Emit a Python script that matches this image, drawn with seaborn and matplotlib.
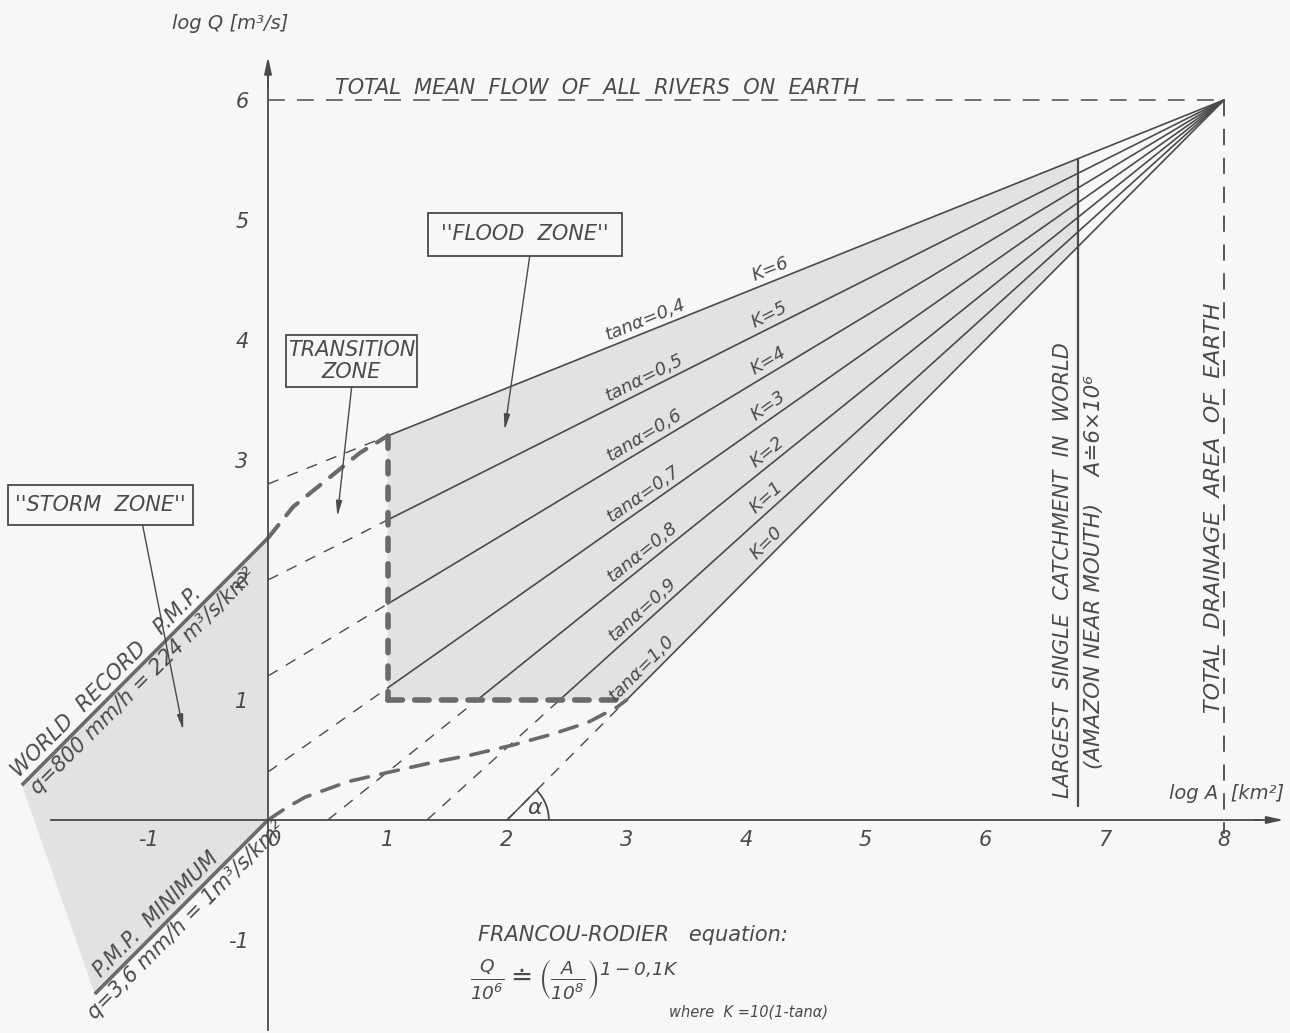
import numpy as np
import pandas as pd
import matplotlib.pyplot as plt
import matplotlib.patches as mpatches
from matplotlib import font_manager
import seaborn as sns

# ---- values (log A [km2], log Q [m3/s]) ----
K_VALUES = [0, 1, 2, 3, 4, 5, 6]
TAN_LABELS = ["1,0", "0,9", "0,8", "0,7", "0,6", "0,5", "0,4"]
# where each solid Francou-Rodier line leaves the flood zone boundary
LINE_START_X = [3.0, 2.44, 1.75, 1.0, 1.0, 1.0, 1.0]
LINE_START_Y = [1.0, 1.0, 1.0, 1.1, 1.8, 2.5, 3.2]
# where the dashed continuations meet the axes
EXT_X = [2.0, 1.33, 0.5, 0.0, 0.0, 0.0, 0.0]
EXT_Y = [0.0, 0.0, 0.0, 0.4, 1.2, 2.0, 2.8]
POLE_X = 8.0   # total drainage area of earth
POLE_Y = 6.0   # total mean flow of all rivers

# largest single catchment (Amazon near mouth)
AMAZON_X = 6.78
AMAZON_Y = [0.12, 5.51]
AMAZON_K0_Y = 4.78

# storm zone envelopes
PMP_MAX_X = [-2.06, 0.0]
PMP_MAX_Y = [0.29, 2.35]
PMP_MIN_X = [-1.45, 0.0]
PMP_MIN_Y = [-1.45, 0.0]

# transition zone envelopes (thick dashed)
TRANS_UP_X = [0.0, 0.21, 0.46, 0.77, 1.0]
TRANS_UP_Y = [2.35, 2.61, 2.81, 3.06, 3.2]
TRANS_LO_X = [0.0, 0.15, 0.31, 0.67, 1.02, 1.38, 1.69, 2.03, 2.36, 2.67, 2.92, 3.0]
TRANS_LO_Y = [0.0, 0.10, 0.19, 0.32, 0.40, 0.48, 0.54, 0.62, 0.71, 0.81, 0.94, 1.0]

X_TICKS = [-1, 0, 1, 2, 3, 4, 5, 6, 7, 8]
Y_TICKS = [-1, 1, 2, 3, 4, 5, 6]

BG = "#f7f7f5"
SHADE = "#e2e3e1"
INK = "#4a4a4a"
DASH_INK = "#6a6a6a"

sns.set_style("white")
_names = {f.name for f in font_manager.fontManager.ttflist}
FONT = "Liberation Sans Narrow" if "Liberation Sans Narrow" in _names else "DejaVu Sans"
plt.rcParams["font.family"] = [FONT, "DejaVu Sans"]
plt.rcParams["font.style"] = "italic"
plt.rcParams["text.color"] = INK

fig = plt.figure(figsize=(12.9, 10.33), dpi=100)
fig.patch.set_facecolor(BG)
ax = fig.add_axes([0, 0, 1, 1])
ax.set_facecolor(BG)

# shaded zones
ax.fill([LINE_START_X[3], LINE_START_X[0], AMAZON_X, AMAZON_X, LINE_START_X[6]],
        [LINE_START_Y[3] - 0.1, LINE_START_Y[0], AMAZON_K0_Y, AMAZON_Y[1], LINE_START_Y[6]],
        color=SHADE, lw=0, zorder=0)
ax.fill([PMP_MAX_X[0], PMP_MAX_X[1], PMP_MIN_X[1], PMP_MIN_X[0]],
        [PMP_MAX_Y[0], PMP_MAX_Y[1], PMP_MIN_Y[1], PMP_MIN_Y[0]],
        color=SHADE, lw=0, zorder=0)

# solid fan of lines to the pole
fan = pd.DataFrame({
    "K": K_VALUES + K_VALUES,
    "x": LINE_START_X + [POLE_X] * len(K_VALUES),
    "y": LINE_START_Y + [POLE_Y] * len(K_VALUES),
    "o": [0] * len(K_VALUES) + [1] * len(K_VALUES),
}).sort_values(["K", "o"])
sns.lineplot(data=fan, x="x", y="y", units="K", estimator=None, sort=False,
             color=INK, lw=1.2, ax=ax)

# dashed continuations
ext = pd.DataFrame({
    "K": K_VALUES + K_VALUES,
    "x": EXT_X + LINE_START_X,
    "y": EXT_Y + LINE_START_Y,
    "o": [0] * len(K_VALUES) + [1] * len(K_VALUES),
}).sort_values(["K", "o"])
sns.lineplot(data=ext, x="x", y="y", units="K", estimator=None, sort=False,
             color=INK, lw=1.0, linestyle=(0, (8, 7)), ax=ax)

# transition zone envelopes
sns.lineplot(x=TRANS_UP_X, y=TRANS_UP_Y, sort=False, color=DASH_INK, lw=3,
             linestyle=(0, (4, 3)), dash_capstyle="round", ax=ax)
sns.lineplot(x=TRANS_LO_X, y=TRANS_LO_Y, sort=False, color=DASH_INK, lw=2.6,
             linestyle=(0, (5, 3.5)), dash_capstyle="round", ax=ax)

# flood zone border (thick dashed)
ax.plot([LINE_START_X[6], LINE_START_X[3], LINE_START_X[3]],
        [LINE_START_Y[6], LINE_START_Y[3] - 0.1, LINE_START_Y[3] - 0.1],
        color=DASH_INK, lw=4, linestyle=(0, (2.2, 2.4)), dash_capstyle="round")
ax.plot([LINE_START_X[3], LINE_START_X[0]], [LINE_START_Y[0], LINE_START_Y[0]],
        color=DASH_INK, lw=4, linestyle=(0, (2.6, 2.2)), dash_capstyle="round")

# storm zone envelopes
ax.plot(PMP_MAX_X, PMP_MAX_Y, color=DASH_INK, lw=2.6, solid_capstyle="butt")
ax.plot(PMP_MIN_X, PMP_MIN_Y, color=DASH_INK, lw=2.6, solid_capstyle="butt")

# reference lines
ax.plot([0, POLE_X], [POLE_Y, POLE_Y], color=INK, lw=1.1, linestyle=(0, (11, 8)))
ax.plot([POLE_X, POLE_X], [POLE_Y, -0.12], color=INK, lw=1.3, linestyle=(0, (9, 7)))
ax.plot([AMAZON_X, AMAZON_X], AMAZON_Y, color=INK, lw=1.6)

# angle alpha at the K=0 line
ax.plot([EXT_X[0], EXT_X[0] + 0.26], [EXT_Y[0], EXT_Y[0] + 0.26], color=INK, lw=1.1)
ax.add_patch(mpatches.Arc((EXT_X[0], EXT_Y[0]), 0.7, 0.7, theta1=0, theta2=45,
                          color=INK, lw=1.3))
ax.text(2.23, 0.1, "α", fontsize=16, ha="center", va="center")

# axes
ax.set_xlim(-2.243, 8.552)
ax.set_ylim(-1.775, 6.833)
ax.set_xlabel("")
ax.set_ylabel("")
for s in ["top", "right"]:
    ax.spines[s].set_visible(False)
for s in ["left", "bottom"]:
    ax.spines[s].set_position(("data", 0))
    ax.spines[s].set_color(INK)
    ax.spines[s].set_linewidth(1.3)
ax.spines["left"].set_bounds(-1.75, 6.2)
ax.spines["bottom"].set_bounds(-1.82, 8.3)
ax.annotate("", xy=(0, 6.36), xytext=(0, 6.1),
            arrowprops=dict(arrowstyle="-|>,head_length=1.0,head_width=0.22",
                            color=INK, lw=1.3, shrinkA=0, shrinkB=0))
ax.annotate("", xy=(8.5, 0), xytext=(8.25, 0),
            arrowprops=dict(arrowstyle="-|>,head_length=1.0,head_width=0.22",
                            color=INK, lw=1.3, shrinkA=0, shrinkB=0))

ax.set_xticks(X_TICKS)
ax.set_xticklabels([str(t) for t in X_TICKS], fontstyle="italic", fontsize=15)
ax.set_yticks(Y_TICKS)
ax.set_yticklabels([str(t) for t in Y_TICKS], fontstyle="italic", fontsize=15)
ax.tick_params(axis="x", length=0, pad=7, colors=INK)
ax.tick_params(axis="y", length=0, pad=14, colors=INK)
for lab in ax.get_xticklabels():
    if lab.get_text() == "0":
        lab.set_ha("left")

# axis titles
ax.text(-0.32, 6.64, "log Q [m³/s]", fontsize=14, ha="center", va="center")
ax.text(8.02, 0.22, "log A  [km²]", fontsize=14, ha="center", va="center")

# reference line captions
ax.text(2.75, 6.02, "TOTAL  MEAN  FLOW  OF  ALL  RIVERS  ON  EARTH",
        fontsize=15, ha="center", va="bottom")
ax.text(7.92, 2.6, "TOTAL  DRAINAGE  AREA  OF  EARTH", fontsize=16,
        rotation=90, ha="center", va="center")
ax.text(6.65, 2.08, "LARGEST  SINGLE  CATCHMENT  IN  WORLD", fontsize=15,
        rotation=90, ha="center", va="center")
ax.text(6.91, 2.07, "(AMAZON NEAR MOUTH)    A≐6×10⁶", fontsize=15.5,
        rotation=90, ha="center", va="center")

# labels along the fan
for i, k in enumerate(K_VALUES):
    slope = (POLE_Y - LINE_START_Y[i]) / (POLE_X - LINE_START_X[i])
    ang = np.degrees(np.arctan(slope * 120 / 119.5))
    nx, ny = -np.sin(np.radians(ang)), np.cos(np.radians(ang))
    for xpos, txt in [(3.2, "tanα=" + TAN_LABELS[i]), (4.24, "K=" + str(k))]:
        ypos = LINE_START_Y[i] + slope * (xpos - LINE_START_X[i])
        ax.annotate(txt, xy=(xpos, ypos), xytext=(2 * nx, 2 * ny),
                    textcoords="offset points", rotation=ang,
                    rotation_mode="anchor", ha="center", va="bottom", fontsize=13)


def along(txt, x, y, above, size=15):
    off = (-1.5, 1.5) if above else (1.5, -1.5)
    ax.annotate(txt, xy=(x, y), xytext=off, textcoords="offset points",
                rotation=45, rotation_mode="anchor", ha="center",
                va="bottom" if above else "top", fontsize=size)


along("WORLD  RECORD   P.M.P.", -1.28, -1.28 + PMP_MAX_Y[1], True)
along("q=800 mm/h = 224 m³/s/km²", -1.12, -1.12 + PMP_MAX_Y[1], False)
along("P.M.P.  MINIMUM", -0.86, -0.86, True)
along("q=3,6 mm/h = 1m³/s/km²", -0.76, -0.76, False)

# zone boxes with pointers
BOXES = [
    ("''FLOOD  ZONE''", (1.34, 4.70), 1.62, 0.36, (2.19, 4.70), (1.98, 3.25)),
    ("TRANSITION\nZONE", (0.15, 3.61), 1.10, 0.43, (0.70, 3.61), (0.58, 2.53)),
    ("''STORM  ZONE''", (-2.18, 2.46), 1.55, 0.33, (-1.05, 2.46), (-0.71, 0.75)),
]
for txt, (bx, by), bw, bh, tail, head in BOXES:
    ax.add_patch(mpatches.Rectangle((bx, by), bw, bh, fc=BG, ec=INK, lw=1.3, zorder=3))
    ax.text(bx + bw / 2, by + bh / 2, txt, fontsize=15, ha="center", va="center",
            linespacing=1.1, zorder=4)
    ax.annotate("", xy=head, xytext=tail,
                arrowprops=dict(arrowstyle="-|>,head_length=0.9,head_width=0.18",
                                color=INK, lw=1.0, shrinkA=0, shrinkB=0))

# equation
ax.text(3.05, -0.96, "FRANCOU-RODIER   equation:", fontsize=15, ha="center", va="center")
ax.text(2.56, -1.33,
        r"$\frac{Q}{10^6}\doteq\left(\frac{A}{10^8}\right)^{1-0{,}1K}$",
        fontsize=19, ha="center", va="center")
ax.text(4.02, -1.6, "where  K =10(1-tanα)", fontsize=10.5, ha="center", va="center")

fig.savefig("out.png", dpi=100, facecolor=BG)
